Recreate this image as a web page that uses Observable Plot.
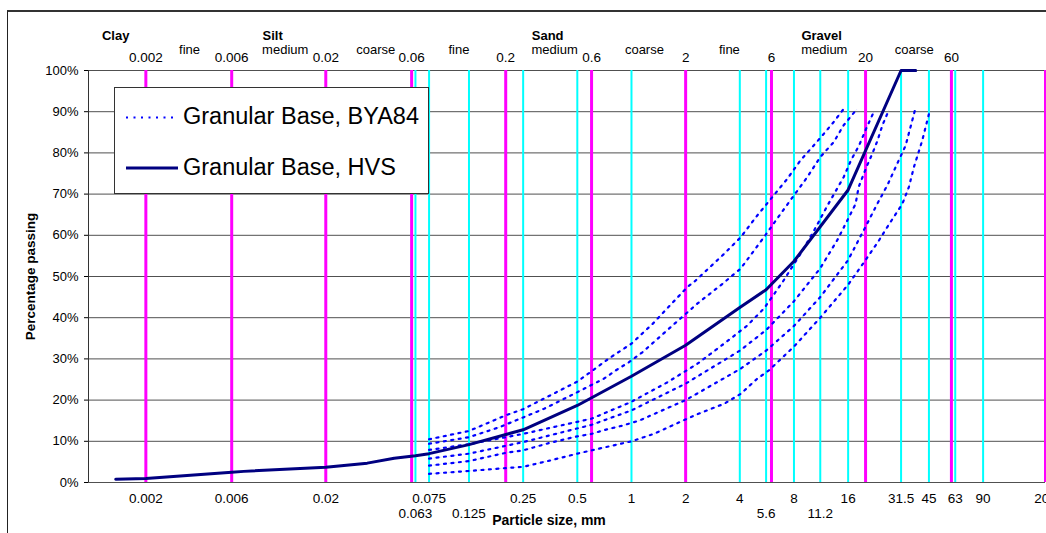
<!DOCTYPE html>
<html><head><meta charset="utf-8">
<script src="https://cdn.jsdelivr.net/npm/d3@7"></script>
<script src="https://cdn.jsdelivr.net/npm/@observablehq/plot@0.6"></script>
<style>
html,body{margin:0;padding:0;background:#fff;overflow:hidden;}
#wrap{position:relative;width:1046px;height:533px;font-family:"Liberation Sans",Arial,sans-serif;}
#frame{position:absolute;left:7px;top:10px;width:1100px;height:600px;border-left:1px solid #222;border-top:2px solid #333;pointer-events:none;z-index:2;}
#legend{position:absolute;left:114px;top:87px;width:315px;height:107px;background:#fff;border:1px solid #333;box-sizing:border-box;z-index:3;}
#legend svg{display:block;}
</style></head>
<body><div id="wrap"><div id="frame"></div><div id="legend"></div></div>
<script>
// ---- data ----
const xDomain = [0.00096, 200];
const yTicks = [0,10,20,30,40,50,60,70,80,90,100];
const sieveMajor = [0.002,0.006,0.02,0.06,0.2,0.6,2,6,20,60,200];
const sieveMinor = [0.063,0.075,0.125,0.25,0.5,1,4,5.6,8,11.2,16,31.5,45,63,90];
const topTickLabels = ["0.002","0.006","0.02","0.06","0.2","0.6","2","6","20","60"];
const bottomLabels = ["0.002","0.006","0.02","0.063","0.075","0.125","0.25","0.5","1","2","4","5.6","8","11.2","16","31.5","45","63","90","200"];
const bottomRow =    [0,0,0,1,0,1,0,0,0,0,0,1,0,1,0,0,0,0,0,0];
const fractionNames = ["Clay","Silt","Sand","Gravel"];
const fractionAt = [0.00114,0.0089,0.279,8.8];
const subNames = ["fine","medium","coarse","fine","medium","coarse","fine","medium","coarse"];
const subAt = [0.0035,0.0119,0.0379,0.11,0.374,1.18,3.5,11.8,37.3];

const hvsSize = [0.00136,0.002,0.006,0.007,0.02,0.034,0.048,0.063,0.075,0.125,0.25,0.5,1,2,4,5.6,8,16,31.5,38];
const hvsPass = [0.8,1.0,2.5,2.7,3.7,4.7,5.9,6.5,7.0,9.2,12.8,18.7,25.8,33.3,42.5,46.8,53.7,71,100,100];

const bya1Size = [0.075,0.125,0.2,0.25,0.5,0.6,0.766,1,1.31,2.04,2.27,3.27,4.04,5.0,7.34,8.7,10.3,11.7,13.3,15];
const bya1Pass = [10.5,12.5,16.3,17.8,24.5,27,30.4,33.7,38.5,47.4,49,55.5,59.5,64.8,73.7,78.2,81.8,84.6,87.5,90.5];
const bya2Size = [0.075,0.125,0.184,0.327,0.459,0.703,0.817,0.968,1.15,1.65,2.32,3.2,4.04,5.44,6.74,8.0,9.48,11.2,13.3,15.1,17.8];
const bya2Pass = [9.4,11,13.4,17.9,21.1,25.2,27.2,29.2,31.6,37.7,43.4,48.2,51.9,59.5,65.2,69.7,74.1,79,82.6,86.7,90.5];
const bya3Size = [0.075,0.125,0.25,0.6,0.99,1.58,2.32,3.27,4.4,5.44,6.9,8.7,10.3,12.2,15.1,16.6,18.4,20.3,22.4];
const bya3Pass = [7.9,9.3,11.8,15.5,19.5,24.3,28.8,33.7,38.1,42.2,48.6,55.5,61,67,74.1,78.2,81.8,86.2,90.3];
const bya4Size = [0.075,0.125,0.25,0.6,1,2,4,5.6,8,11.2,14,17.6,18.3,20.2,21.8,23.3,24.8,26.9];
const bya4Pass = [5.8,7,9.8,14,17.5,24,32,37,44,52,59,67.6,71.7,76.5,79.8,83,86.7,90.3];
const bya5Size = [0.075,0.125,0.2,0.25,0.35,0.5,0.6,0.73,0.89,1.1,2,4,5.6,8,11.2,16,20.4,23.2,26.4,30,33.4,37.6];
const bya5Pass = [4.1,5.2,7.2,7.8,9.6,11.2,11.8,12.9,13.8,15,20,27.5,32,38,45,54,62.8,67.6,72.1,77.4,81.8,90.3];
const bya6Size = [0.075,0.125,0.2,0.25,0.35,0.5,0.6,1,1.33,2.27,3.27,4.04,5,5.8,8,11.2,16,20,23.7,26.4,32,34.8,37.1,41.3,45.5];
const bya6Pass = [2.1,2.8,3.5,3.8,5.3,7,7.8,10,11.8,16.4,19.1,21.5,25.2,27.2,33,40,48,54,58.7,62,67.6,71.7,76.5,83,90.3];

const seriesNames = ["Granular Base, BYA84","Granular Base, HVS"];

// ---- tables ----
const bya = [];
[[bya1Size,bya1Pass],[bya2Size,bya2Pass],[bya3Size,bya3Pass],[bya4Size,bya4Pass],[bya5Size,bya5Pass],[bya6Size,bya6Pass]]
  .forEach(([s,p],k)=>s.forEach((v,i)=>bya.push({curve:k,size:v,pass:p[i]})));
const hvs = hvsSize.map((v,i)=>({size:v,pass:hvsPass[i]}));
const bottom = bottomLabels.map((t,i)=>({t,v:+t,row:bottomRow[i]}));

const font = "Liberation Sans, Arial, sans-serif";
const chart = Plot.plot({
  width:1046, height:533,
  marginLeft:88, marginRight:1, marginTop:70, marginBottom:51,
  x:{type:"log", domain:xDomain, axis:null},
  y:{domain:[0,100], ticks:yTicks, tickFormat:d=>d+"%", tickSize:4, tickPadding:6, label:null},
  style:{fontFamily:font, fontSize:"13px", color:"#000", background:"#fff"},
  marks:[
    Plot.ruleY(yTicks,{stroke:"#505050",strokeWidth:1}),
    Plot.ruleX(sieveMinor,{stroke:"#00ffff",strokeWidth:2}),
    Plot.ruleX(sieveMajor,{stroke:"#ff00ff",strokeWidth:3}),
    Plot.ruleX([xDomain[0]],{stroke:"#333",strokeWidth:1}),
    Plot.line(bya,{x:"size",y:"pass",z:"curve",stroke:"#8080ff",strokeWidth:0.6,strokeOpacity:0.5,strokeDasharray:"2,3"}),
    Plot.line(bya,{x:"size",y:"pass",z:"curve",stroke:"#0000ff",strokeWidth:2.2,strokeDasharray:"2,5.5"}),
    Plot.line(hvs,{x:"size",y:"pass",stroke:"#000080",strokeWidth:3}),
    Plot.text(topTickLabels,{x:d=>+d,frameAnchor:"top",lineAnchor:"middle",dy:-12.5,fontSize:13.5,fill:"#000"}),
    Plot.text(subNames,{x:(d,i)=>subAt[i],frameAnchor:"top",lineAnchor:"middle",dy:-21,fontSize:13,fill:"#000"}),
    Plot.text(fractionNames,{x:(d,i)=>fractionAt[i],frameAnchor:"top",lineAnchor:"middle",dy:-35,fontSize:13,fontWeight:"bold",textAnchor:"start",fill:"#000"}),
    Plot.text(bottom.filter(d=>d.row===0),{x:"v",text:"t",frameAnchor:"bottom",lineAnchor:"middle",dy:16,fontSize:13.5,fill:"#000"}),
    Plot.text(bottom.filter(d=>d.row===1),{x:"v",text:"t",frameAnchor:"bottom",lineAnchor:"middle",dy:31,fontSize:13.5,fill:"#000"}),
    Plot.text(["Particle size, mm"],{frameAnchor:"bottom",lineAnchor:"middle",dx:-18,dy:38,fontSize:14,fontWeight:"bold",fill:"#000"}),
    Plot.text(["Percentage passing"],{frameAnchor:"left",textAnchor:"middle",lineAnchor:"middle",dx:-58,rotate:-90,fontSize:13.5,fontWeight:"bold",fill:"#000"})
  ]
});
document.getElementById("wrap").appendChild(chart);

// legend
const lg = d3.select("#legend").append("svg").attr("width",313).attr("height",105);
lg.append("line").attr("x1",11).attr("x2",63).attr("y1",29.5).attr("y2",29.5)
  .attr("stroke","#0000ff").attr("stroke-width",2.2).attr("stroke-dasharray","2,5.5");
lg.append("line").attr("x1",11).attr("x2",63).attr("y1",80).attr("y2",80)
  .attr("stroke","#000080").attr("stroke-width",3);
lg.selectAll("text").data(seriesNames).join("text")
  .attr("x",68).attr("y",(d,i)=>i?87:36).attr("font-size",23.5).attr("font-family",font).attr("fill","#000").text(d=>d);
</script></body></html>
